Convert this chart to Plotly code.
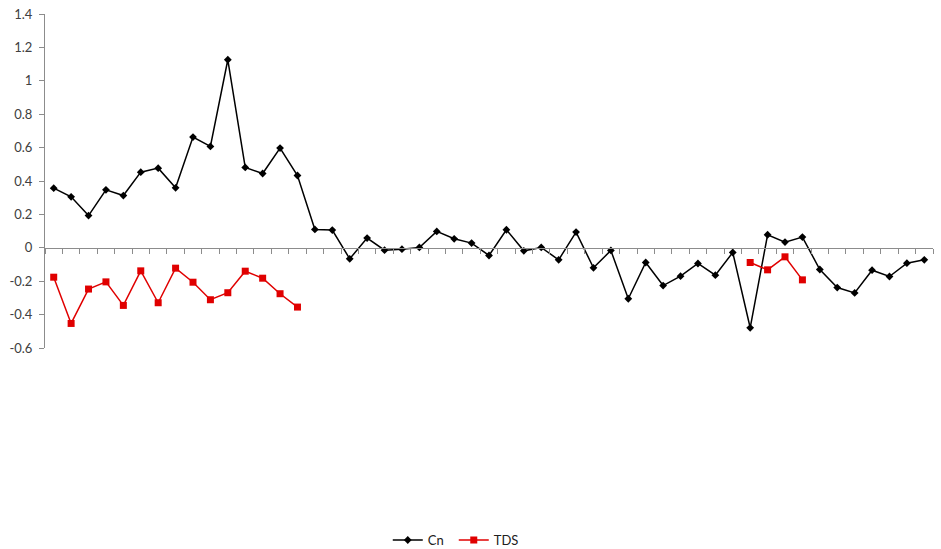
import plotly.graph_objects as go

# Category positions along the horizontal axis
categories = [str(i) for i in range(1, 52)]

# Cn series (one value per category)
cn_values = [
    0.357, 0.305, 0.193, 0.347, 0.313, 0.453, 0.477, 0.359, 0.663, 0.607,
    1.126, 0.481, 0.445, 0.597, 0.433, 0.110, 0.106, -0.066, 0.058, -0.014,
    -0.008, 0.002, 0.098, 0.054, 0.028, -0.046, 0.108, -0.018, 0.002, -0.072,
    0.094, -0.120, -0.016, -0.305, -0.088, -0.226, -0.170, -0.094, -0.164, -0.028,
    -0.479, 0.078, 0.034, 0.064, -0.130, -0.238, -0.270, -0.134, -0.172, -0.092,
    -0.072,
]

# TDS series (gaps where no measurement exists)
tds_values = [
    -0.176, -0.453, -0.247, -0.204, -0.345, -0.138, -0.329, -0.122, -0.206, -0.311,
    -0.269, -0.140, -0.182, -0.275, -0.355,
] + [None] * 25 + [-0.088, -0.132, -0.054, -0.192] + [None] * 7

y_ticks = [-0.6, -0.4, -0.2, 0, 0.2, 0.4, 0.6, 0.8, 1, 1.2, 1.4]
y_tick_text = ["-0.6", "-0.4", "-0.2", "0", "0.2", "0.4", "0.6", "0.8", "1", "1.2", "1.4"]

axis_gray = "#8c8c8c"
font_family = "Lato, 'Open Sans', sans-serif"

fig = go.Figure()
fig.add_trace(go.Scatter(
    x=categories, y=cn_values, name="Cn", mode="lines+markers",
    line=dict(color="#000000", width=1.5),
    marker=dict(symbol="diamond", size=6, color="#000000"),
))
fig.add_trace(go.Scatter(
    x=categories, y=tds_values, name="TDS", mode="lines+markers",
    line=dict(color="#e00000", width=1.5),
    marker=dict(symbol="square", size=7, color="#e00000"),
    connectgaps=False,
))

fig.update_layout(
    width=941, height=549,
    margin=dict(l=45, r=8, t=14, b=201, autoexpand=False),
    paper_bgcolor="white", plot_bgcolor="white",
    font=dict(family=font_family, size=13, color="#404040"),
    showlegend=True,
    legend=dict(orientation="h", x=0.386, xanchor="left", y=-0.575, yanchor="middle",
                font=dict(size=13, color="#202020"), itemwidth=30,
                entrywidth=21, entrywidthmode="pixels",
                bgcolor="rgba(0,0,0,0)"),
)

fig.update_xaxes(
    type="category", range=[-0.5, 50.5],
    anchor="free", position=0.3,
    showline=True, linecolor=axis_gray, linewidth=1,
    ticks="outside", tickson="boundaries", ticklen=5, tickcolor=axis_gray,
    showticklabels=False, showgrid=False, zeroline=False,
)
fig.update_yaxes(
    range=[-0.6, 1.4], tickvals=y_ticks, ticktext=y_tick_text,
    showline=True, linecolor=axis_gray, linewidth=1,
    ticks="outside", ticklen=5, tickcolor=axis_gray,
    showgrid=False, zeroline=False, ticklabelstandoff=4,
)

fig.write_html("out.html")
